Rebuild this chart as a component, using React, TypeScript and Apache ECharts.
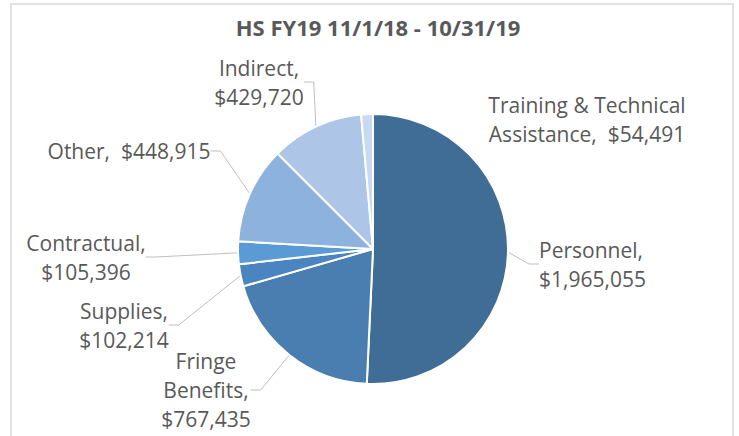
import React, { useEffect, useRef } from "react";
import * as echarts from "echarts";

const title = "HS FY19 11/1/18 - 10/31/19";
const categories = [
  "Personnel",
  "Fringe Benefits",
  "Supplies",
  "Contractual",
  "Other",
  "Indirect",
  "Training & Technical Assistance",
];
const values = [1965055, 767435, 102214, 105396, 448915, 429720, 54491];
const colors = ["#3f6d96", "#4a7eb1", "#4b85c1", "#5a9ad5", "#8db2de", "#adc5e6", "#c9d9ef"];
// how each label is broken into lines (Excel-like wrapping)
const labelText = [
  "Personnel,\n$1,965,055",
  "Fringe\nBenefits,\n$767,435",
  "Supplies,\n$102,214",
  "Contractual,\n$105,396",
  "Other,  $448,915",
  "Indirect,\n$429,720",
  "Training & Technical\nAssistance,  $54,491",
];
// label anchor [x, y, align]
const labelPos: [number, number, string][] = [
  [539, 264, "left"],
  [206, 390, "center"],
  [124, 325, "center"],
  [86, 257, "center"],
  [129, 151, "center"],
  [259, 82, "center"],
  [587, 119, "center"],
];
const showLine = [true, true, true, true, true, true, false];

export default function App() {
  const ref = useRef<HTMLDivElement>(null);
  useEffect(() => {
    document.body.style.margin = "0";
    const chart = echarts.init(ref.current!, null, { renderer: "svg" });
    chart.setOption({
      animation: false,
      backgroundColor: "#ffffff",
      title: {
        text: title,
        left: 373,
        top: 11,
        textAlign: "center",
        textStyle: {
          fontFamily: "Open Sans",
          fontSize: 22,
          fontWeight: "bold",
          color: "#595959",
        },
      },
      graphic: [
        {
          type: "rect",
          shape: { x: 11, y: 4, width: 722, height: 450 },
          style: { fill: "none", stroke: "#d9d9d9", lineWidth: 1.5 },
          silent: true,
        },
      ],
      series: [
        {
          type: "pie",
          center: [373, 249],
          radius: [0, 135],
          startAngle: 90,
          clockwise: true,
          data: categories.map((name, i) => ({
            name,
            value: values[i],
            itemStyle: { color: colors[i] },
            labelLine: { show: showLine[i] },
          })),
          itemStyle: { borderColor: "#ffffff", borderWidth: 2 },
          label: {
            show: true,
            position: "outside",
            formatter: (p: any) => labelText[p.dataIndex],
            fontFamily: "Open Sans",
            fontSize: 21,
            lineHeight: 29,
            color: "#595959",
          },
          labelLine: {
            show: true,
            length: 15,
            length2: 10,
            lineStyle: { color: "#bfbfbf", width: 1 },
          },
          labelLayout: (p: any) => {
            const lp = labelPos[p.dataIndex];
            return { x: lp[0], y: lp[1], align: lp[2], verticalAlign: "middle" };
          },
          emphasis: { disabled: true },
        },
      ],
    });
    return () => chart.dispose();
  }, []);
  return <div ref={ref} style={{ width: 739, height: 436 }} />;
}
